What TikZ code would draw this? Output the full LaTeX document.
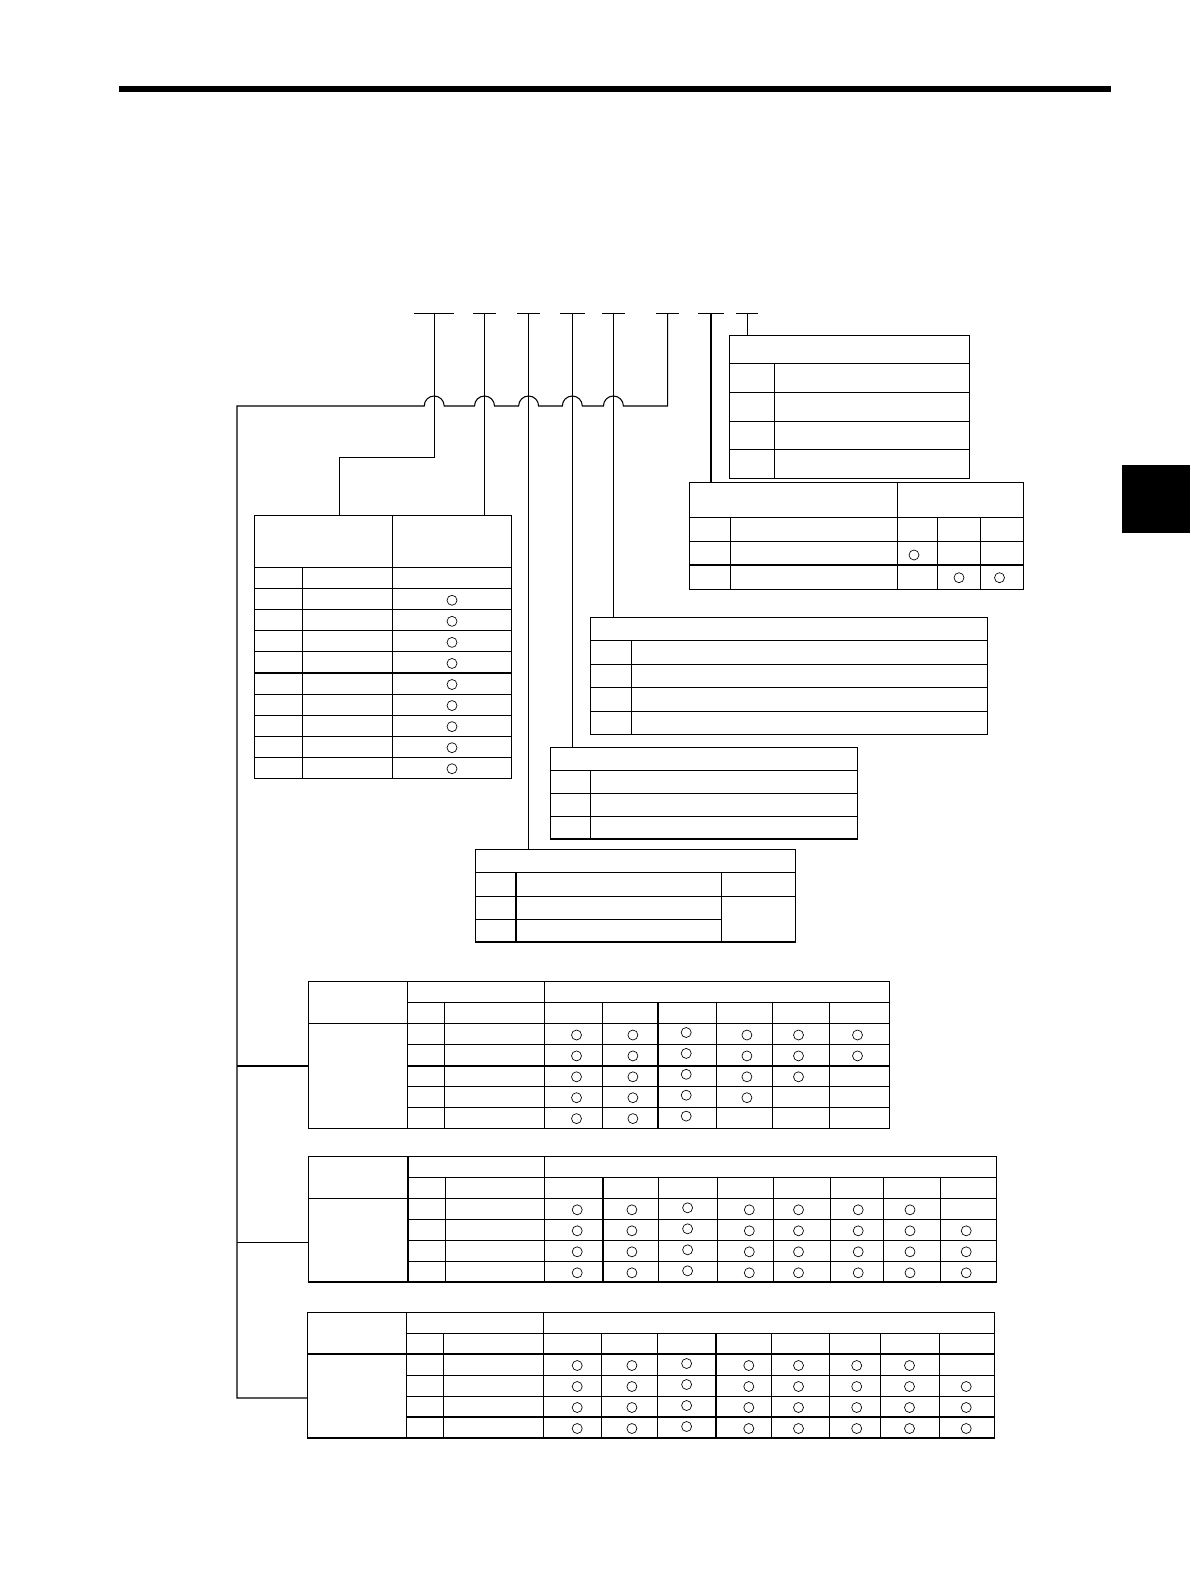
\documentclass[tikz,border=0pt]{standalone}
\usepackage{amsmath}
\begin{document}
\begin{tikzpicture}[x=0.75pt,y=0.75pt,yscale=-1,xscale=1,
    tbl/.style={line width=0.8pt},
    lead/.style={line width=0.8pt},
    okmark/.style={line width=0.5pt}]
\useasboundingbox (0,0) rectangle (1190,1588);
% page rule and thumb tab
\draw [line width=4.5pt] (119,89) -- (1110.7,89);
\fill (1122,465) rectangle (1190,533.3);
% code positions
\foreach \n/\x/\h in {s1/434.2/20,s2/484.5/11.5,s3/528.6/11.5,s4/572.3/12.5,s5/613.4/11.5,s6/667.7/11.5,s7/711/13,s8/747.3/11}{
  \coordinate (\n) at (\x,313.3);
  \draw [lead] (\x-\h,313.3) -- (\x+\h,313.3);
}
\coordinate (bus) at (237,406);
\coordinate (c1knee) at (339.2,457.3);
\coordinate (jG) at (237,1066);
\coordinate (jH) at (237,1242.5);
\coordinate (jI) at (237,1398);
% table corners
\coordinate (A) at (729.3,335.3);
\coordinate (B) at (689.3,482.3);
\coordinate (C) at (254.3,515.3);
\coordinate (D) at (590.5,617.3);
\coordinate (E) at (550.2,747.3);
\coordinate (F) at (475.3,849.3);
\coordinate (G) at (308.5,981.7);
\coordinate (H) at (308.5,1156.7);
\coordinate (I) at (307.5,1312.3);
% leads
\draw [lead] (s1) |- (c1knee) -- (c1knee |- C);
\draw [lead] (s2) -- (s2 |- C);
\draw [lead] (s3) -- (s3 |- F);
\draw [lead] (s4) -- (s4 |- E);
\draw [lead] (s5) -- (s5 |- D);
\draw [lead] (s7) -- (s7 |- B);
\draw [lead] (s8) -- (s8 |- A);
\draw [lead] (s6) |- (623.4,406) arc[start angle=0,end angle=-180,radius=10]
    -- (582.3,406) arc[start angle=0,end angle=-180,radius=10]
    -- (538.6,406) arc[start angle=0,end angle=-180,radius=10]
    -- (494.5,406) arc[start angle=0,end angle=-180,radius=10]
    -- (444.2,406) arc[start angle=0,end angle=-180,radius=10]
    -- (bus) -- (jI) -- (jI -| I);
\draw [lead] (jG) -- (jG -| G);
\draw [lead] (jH) -- (jH -| H);
% table A
\draw [tbl] (A) rectangle (969.3,478.3);
\foreach \y in {363.3,392.3,421.3,449.3} \draw [tbl] (729.3,\y) -- (969.3,\y);
\draw [tbl] (774.3,363.3) -- (774.3,478.3);
% table B
\draw [tbl] (B) rectangle (1023.3,589.3);
\foreach \y in {517.3,541.3,565} \draw [tbl] (689.3,\y) -- (1023.3,\y);
\draw [tbl] (897.3,482.3) -- (897.3,589.3);
\foreach \x in {730.3,937.3,980.7} \draw [tbl] (\x,517.3) -- (\x,589.3);
\draw [okmark] (914,555) circle[radius=5];
\draw [okmark] (959,577.7) circle[radius=5] (999.5,577.7) circle[radius=5];
% table C
\draw [tbl] (C) rectangle (511.3,778.3);
\draw [tbl] (392.3,515.3) -- (392.3,778.3);
\draw [tbl] (302.3,567.7) -- (302.3,778.3);
\draw [tbl] (254.3,567.7) -- (511.3,567.7);
\foreach \i in {1,...,9}{
  \draw [tbl] (254.3,567.7+21.06*\i) -- (511.3,567.7+21.06*\i);
  \draw [okmark] (452,568.7+21.06*\i+10.5) circle[radius=5];
}
% table D
\draw [tbl] (D) rectangle (987.3,734.3);
\foreach \y in {640.3,664.3,687.7,711.3} \draw [tbl] (590.5,\y) -- (987.3,\y);
\draw [tbl] (631.4,640.3) -- (631.4,734.3);
% table E
\draw [tbl] (E) rectangle (857.5,839);
\foreach \y in {770.3,793.3,816.7} \draw [tbl] (550.2,\y) -- (857.5,\y);
\draw [tbl] (590.8,770.3) -- (590.8,839);
% table F
\draw [tbl] (F) rectangle (795.3,942);
\foreach \y in {872.3,896.3} \draw [tbl] (475.3,\y) -- (795.3,\y);
\draw [tbl] (475.3,919.3) -- (721.3,919.3);
\foreach \x in {516,721.3} \draw [tbl] (\x,872.3) -- (\x,942);
% table G
\draw [tbl] (G) rectangle (889.2,1128.3);
\draw [tbl] (407.3,1002.3) -- (889.2,1002.3);
\draw [tbl] (308.5,1023.3) -- (889.2,1023.3);
\foreach \y in {1044.7,1066,1086.7,1107.7} \draw [tbl] (407.3,\y) -- (889.2,\y);
\foreach \x in {407.3,544.4} \draw [tbl] (\x,981.7) -- (\x,1128.3);
\foreach \x in {444.6,602.5,658,716.1,772.5,829.7} \draw [tbl] (\x,1002.3) -- (\x,1128.3);
\foreach \x/\dy/\last in {576.5/0/5,632.9/0/5,686.2/-2.5/5,746.9/0/4,798.5/0/3,857.5/0/2}
  \foreach \r in {1,...,\last} \draw [okmark] (\x,1035+\dy+20.9*\r-20.9) circle[radius=5];
% table H
\draw [tbl] (H) rectangle (996.6,1282);
\draw [tbl] (408,1177.3) -- (996.6,1177.3);
\draw [tbl] (308.5,1198.3) -- (996.6,1198.3);
\foreach \y in {1219.3,1240.3,1261.3} \draw [tbl] (408,\y) -- (996.6,\y);
\foreach \x in {408,544.8} \draw [tbl] (\x,1156.7) -- (\x,1282);
\foreach \x in {445.3,603,658.7,717.4,773.2,830.9,883.1,940.3} \draw [tbl] (\x,1177.3) -- (\x,1282);
\foreach \x/\dy/\first in {577.2/0/1,631.9/0/1,687.6/-2/1,749.3/0/1,798.5/0/1,858.2/0/1,910/0/1,966.2/0/2}
  \foreach \r in {\first,...,4} \draw [okmark] (\x,1209.8+\dy+21*\r-21) circle[radius=5];
% table I
\draw [tbl] (I) rectangle (994.5,1438);
\draw [tbl] (406.5,1333.3) -- (994.5,1333.3);
\draw [tbl] (307.5,1354) -- (994.5,1354);
\foreach \y in {1375.3,1396.3,1417} \draw [tbl] (406.5,\y) -- (994.5,\y);
\foreach \x in {406.5,543.3} \draw [tbl] (\x,1312.3) -- (\x,1438);
\foreach \x in {443.8,601.5,657.3,716,771.7,829.4,880.6,939.3} \draw [tbl] (\x,1333.3) -- (\x,1438);
\foreach \x/\dy/\first in {577.2/0/1,631.9/0/1,686.6/-2/1,748.8/0/1,798.5/0/1,856.7/0/1,909.5/0/1,966.2/0/2}
  \foreach \r in {\first,...,4} \draw [okmark] (\x,1365.5+\dy+21*\r-21) circle[radius=5];
\end{tikzpicture}
\end{document}
